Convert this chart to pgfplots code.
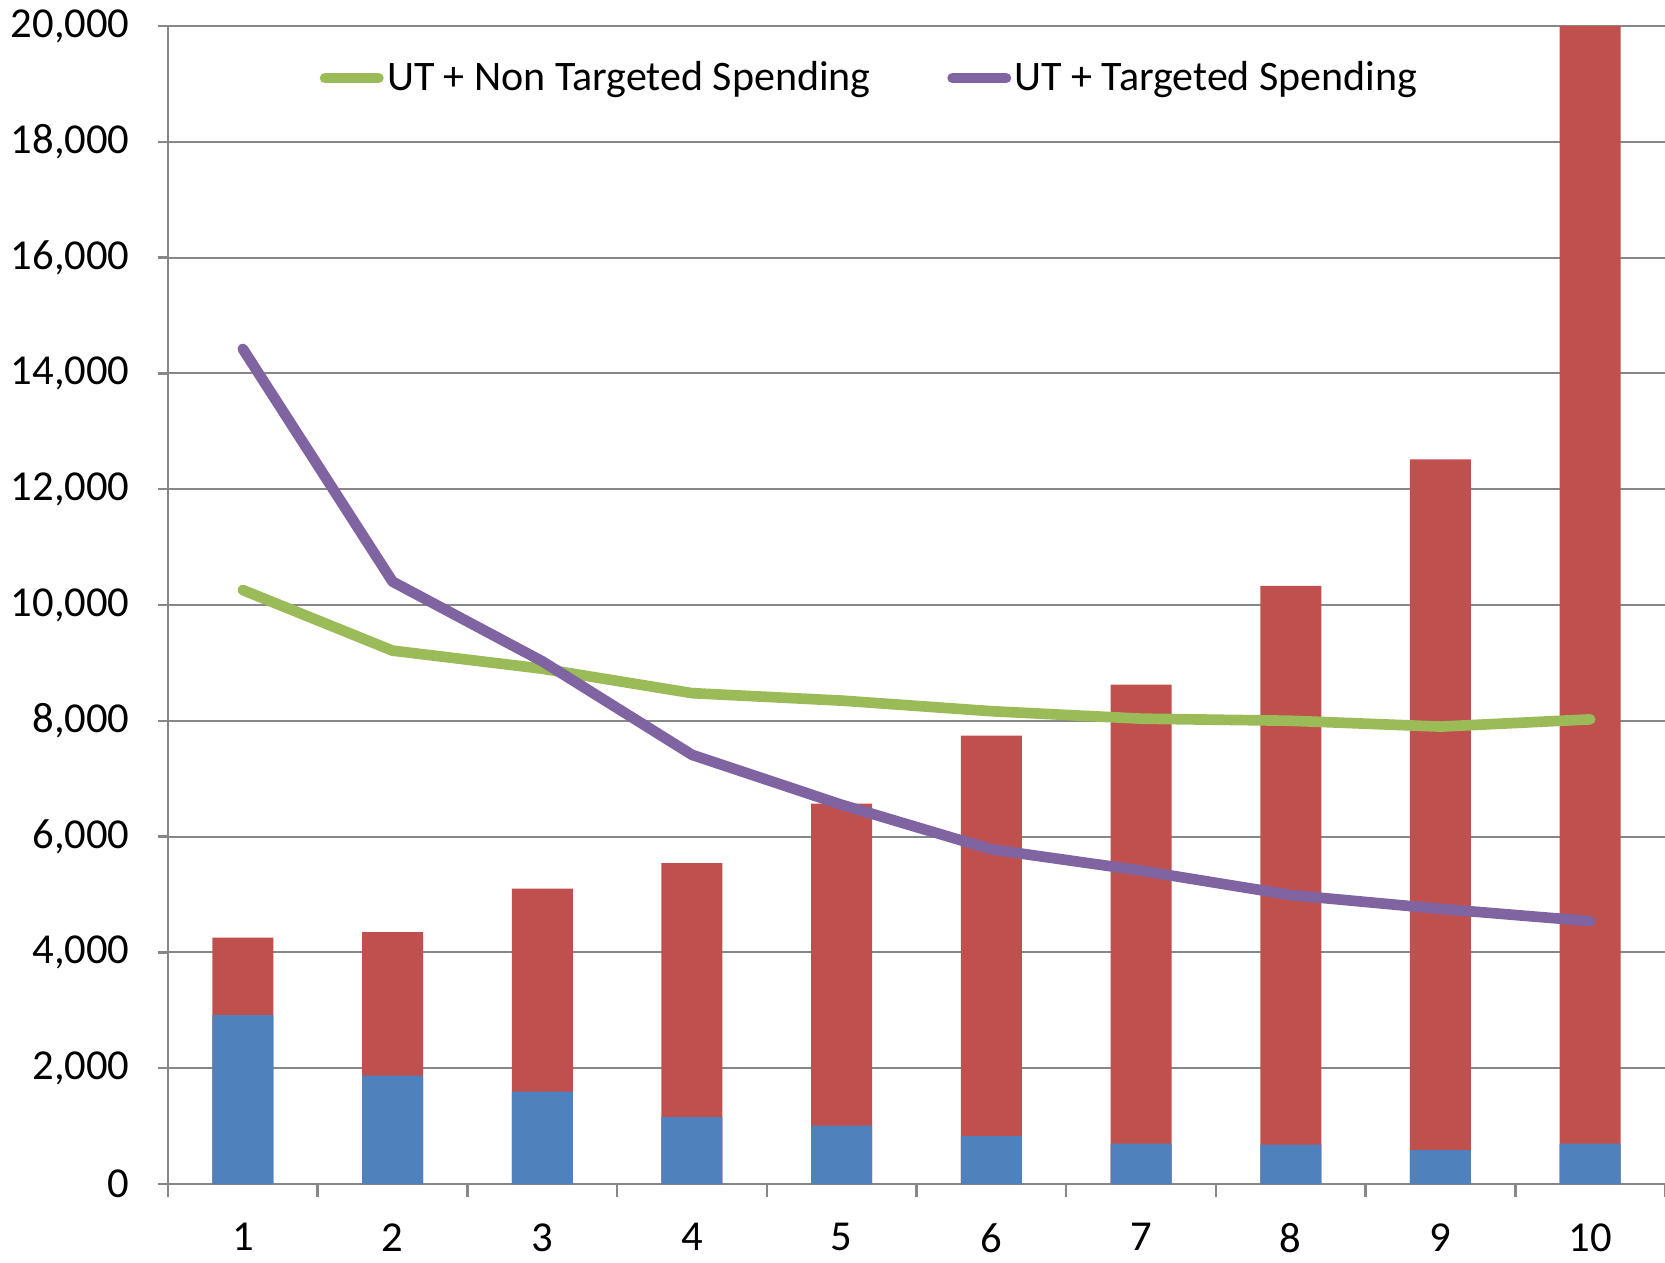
\documentclass[border=0pt]{standalone}
\usepackage{pgfplots}
\pgfplotsset{compat=1.18}
\usepackage{fontspec}
\setmainfont{Carlito}
\definecolor{cblue}{HTML}{4F81BD}
\definecolor{cred}{HTML}{C0504D}
\definecolor{cgreen}{HTML}{9BBB59}
\definecolor{cpurple}{HTML}{8064A2}
\definecolor{cgrid}{HTML}{878787}
\begin{document}
\begin{tikzpicture}
\begin{axis}[
  scale only axis,
  width=449.1pt, height=347.4pt,
  xmin=0.5, xmax=10.5,
  ymin=0, ymax=20000,
  axis x line*=bottom, axis y line*=left,
  axis line style={cgrid, line width=0.75pt},
  xtick={1,...,10},
  minor xtick={0.5,1.5,...,10.5},
  major x tick style={draw=none},
  minor x tick style={cgrid, line width=0.75pt},
  ytick={0,2000,...,20000},
  ytick style={cgrid, line width=0.75pt},
  tick align=outside,
  major tick length=3pt,
  minor tick length=3.9pt,
  ymajorgrids,
  major grid style={cgrid, line width=0.6pt},
  scaled y ticks=false,
  /pgf/number format/.cd, 1000 sep={,}, assume math mode=true,
  /pgfplots/.cd,
  tick label style={font=\fontsize{12.8}{15}\selectfont, text=black},
  xticklabel style={yshift=-5.3pt},
  yticklabel style={xshift=-5pt},
  legend style={at={(axis description cs:0.1009,0.955)}, anchor=west, draw=none, fill=none,
    font=\fontsize{12.6}{15}\selectfont, inner sep=0pt,
    legend columns=2, nodes={inner xsep=1pt},
    /tikz/every even column/.append style={column sep=22pt}},
  legend image code/.code={\draw[#1, line cap=round] (0pt,0pt) -- (16pt,0pt);},
  clip=true,
]
\addplot[ybar, bar width=18.3pt, bar shift=0pt, fill=cred, draw=none, forget plot]
  coordinates {(1,4257) (2,4349) (3,5101) (4,5542) (5,6569) (6,7744) (7,8625) (8,10331) (9,12515) (10,20000)};
\addplot[ybar, bar width=18.3pt, bar shift=0pt, fill=cblue, draw=none, forget plot]
  coordinates {(1,2918) (2,1872) (3,1596) (4,1156) (5,1009) (6,826) (7,697) (8,679) (9,587) (10,697)};
\addplot[sharp plot, cgreen, line width=3.2pt, line cap=round, line join=round]
  coordinates {(1,10258) (2,9212) (3,8900) (4,8478) (5,8349) (6,8166) (7,8037) (8,8001) (9,7900) (10,8025)};
\addlegendentry{UT + Non Targeted Spending}
\addplot[sharp plot, cpurple, line width=3.2pt, line cap=round, line join=round]
  coordinates {(1,14423) (2,10404) (3,9028) (4,7413) (5,6550) (6,5780) (7,5413) (8,4991) (9,4752) (10,4540)};
\addlegendentry{UT + Targeted Spending}
\coordinate (bl) at (rel axis cs:0,0);
\coordinate (tr) at (rel axis cs:1,1);
\end{axis}
\pgfresetboundingbox
\path[use as bounding box] ([shift={(-50.4pt,-23.4pt)}]bl) rectangle ([shift={(0pt,7.8pt)}]tr);
\end{tikzpicture}
\end{document}
